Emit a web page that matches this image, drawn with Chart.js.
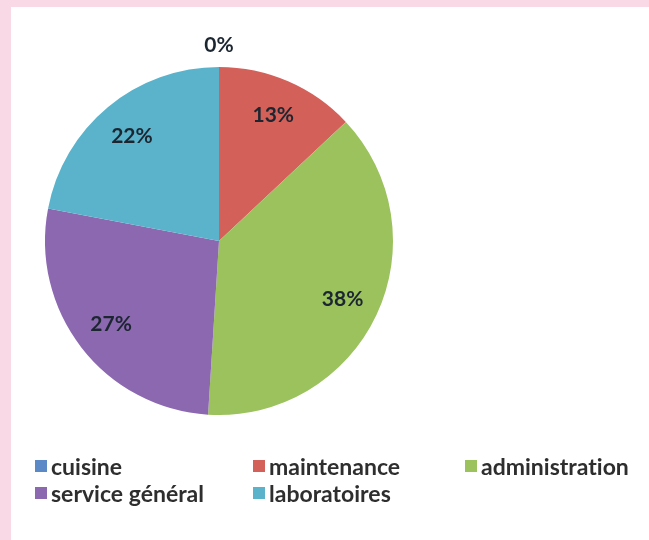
<!DOCTYPE html>
<html>
<head>
<meta charset="utf-8">
<script src="https://cdn.jsdelivr.net/npm/chart.js@4/dist/chart.umd.min.js"></script>
<style>
  html, body { margin: 0; padding: 0; }
  body { width: 649px; height: 540px; background: #f9d9e5; position: relative; overflow: hidden; }
  #panel { position: absolute; left: 11px; top: 7px; right: 0; bottom: 0; background: #ffffff; }
  #wrap { position: absolute; left: 19px; top: 21px; width: 400px; height: 440px; }
  #legend { position: absolute; left: 0; top: 0; width: 649px; height: 540px; pointer-events: none; }
  .item { position: absolute; display: flex; align-items: center; height: 24px;
          font-family: Lato, "Noto Sans", sans-serif; font-weight: 700; font-size: 23px;
          font-variant-ligatures: none; color: #2e2e2e; white-space: nowrap; }
  .box { width: 12px; height: 12px; margin-right: 4px; flex: none; }
</style>
</head>
<body>
<div id="panel"></div>
<div id="wrap"><canvas id="pie"></canvas></div>
<div id="legend"></div>
<script>
// Répartition par service (en %)
const categories = ["cuisine", "maintenance", "administration", "service général", "laboratoires"];
const shares = [0, 13, 38, 27, 22];
const sliceColors = ["#5b88c6", "#d4605a", "#9cc25e", "#8c68b0", "#5bb3cb"];

// Legend grid: column/row slot for each category
const legendSlots = [[0, 0], [1, 0], [2, 0], [0, 1], [1, 1]];
const legendColX = [35, 253, 465];
const legendRowY = [454, 481];

// Percentage labels drawn on the slices (outside when a slice is empty)
const sliceLabels = {
  id: "sliceLabels",
  afterDatasetsDraw(chart) {
    const ctx = chart.ctx;
    const meta = chart.getDatasetMeta(0);
    const values = chart.data.datasets[0].data;
    ctx.save();
    ctx.font = "700 21px Lato, 'Noto Sans', sans-serif";
    ctx.fillStyle = "#1c2631";
    ctx.textAlign = "center";
    ctx.textBaseline = "middle";
    meta.data.forEach((arc, i) => {
      const p = arc.getProps(["x", "y", "startAngle", "endAngle", "outerRadius"], true);
      const mid = (p.startAngle + p.endAngle) / 2;
      const r = values[i] === 0 ? p.outerRadius + 22 : p.outerRadius * 0.785;
      ctx.fillText(values[i] + "%", p.x + Math.cos(mid) * r, p.y + Math.sin(mid) * r);
    });
    ctx.restore();
  }
};

const canvas = document.getElementById("pie");
canvas.width = 400; canvas.height = 440;

const chart = new Chart(canvas, {
  type: "pie",
  data: {
    labels: categories,
    datasets: [{
      data: shares,
      backgroundColor: sliceColors,
      borderWidth: 0
    }]
  },
  options: {
    responsive: false,
    animation: false,
    layout: { padding: { left: 26, right: 26, top: 46, bottom: 46 } },
    plugins: {
      legend: { display: false },
      tooltip: { enabled: false }
    }
  },
  plugins: [sliceLabels]
});

// Legend built from the chart's own labels and colours
const legendEl = document.getElementById("legend");
chart.data.labels.forEach((label, i) => {
  const [c, r] = legendSlots[i];
  const item = document.createElement("div");
  item.className = "item";
  item.style.left = legendColX[c] + "px";
  item.style.top = legendRowY[r] + "px";
  const box = document.createElement("span");
  box.className = "box";
  box.style.background = chart.data.datasets[0].backgroundColor[i];
  const txt = document.createElement("span");
  txt.textContent = label;
  item.appendChild(box);
  item.appendChild(txt);
  legendEl.appendChild(item);
});
</script>
</body>
</html>
